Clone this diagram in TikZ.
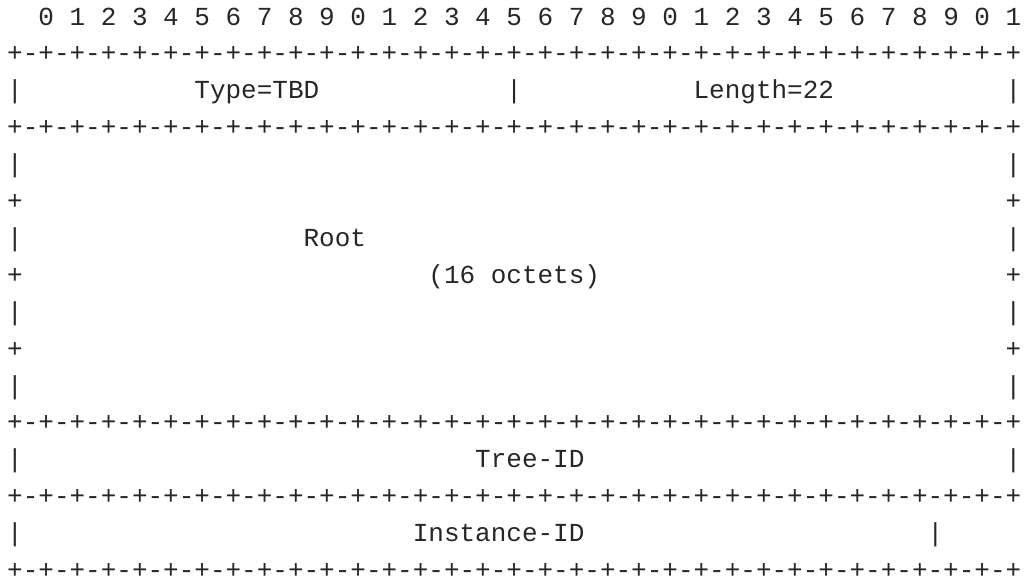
\documentclass[tikz,border=0pt]{standalone}
\usepackage{fontspec}
\setmonofont{Liberation Mono}
\definecolor{ink}{HTML}{262626}
\newcommand\asciiat[4]{\node[asc] (#1) at ({7.2+#2*15.6},{-(25+#3*36.9)}) {#4};}
\newcommand\borderrow{+-+-+-+-+-+-+-+-+-+-+-+-+-+-+-+-+-+-+-+-+-+-+-+-+-+-+-+-+-+-+-+-+}
\begin{document}
\begin{tikzpicture}[x=1pt,y=1pt,
  asc/.style={anchor=base west, inner sep=0pt, outer sep=0pt, text depth=0pt,
    font=\ttfamily\fontsize{26}{26}\selectfont, text=ink}]
\useasboundingbox (0,0) rectangle (1024,-579);
% bit ruler
\asciiat{ruler}{2}{0}{0 1 2 3 4 5 6 7 8 9 0 1 2 3 4 5 6 7 8 9 0 1 2 3 4 5 6 7 8 9 0 1}
% borders
\asciiat{b1}{0}{1}{\borderrow}
\asciiat{b3}{0}{3}{\borderrow}
\asciiat{b11}{0}{11}{\borderrow}
\asciiat{b13}{0}{13}{\borderrow}
\asciiat{b15}{0}{15}{\borderrow}
% row 2
\asciiat{l2}{0}{2}{|}
\asciiat{type}{12}{2}{Type=TBD}
\asciiat{m2}{32}{2}{|}
\asciiat{len}{44}{2}{Length=22}
\asciiat{r2}{64}{2}{|}
% Root block
\asciiat{l4}{0}{4}{|}\asciiat{r4}{64}{4}{|}
\asciiat{l5}{0}{5}{+}\asciiat{r5}{64}{5}{+}
\asciiat{l6}{0}{6}{|}\asciiat{root}{19}{6}{Root}\asciiat{r6}{64}{6}{|}
\asciiat{l7}{0}{7}{+}\asciiat{oct}{27}{7}{(16 octets)}\asciiat{r7}{64}{7}{+}
\asciiat{l8}{0}{8}{|}\asciiat{r8}{64}{8}{|}
\asciiat{l9}{0}{9}{+}\asciiat{r9}{64}{9}{+}
\asciiat{l10}{0}{10}{|}\asciiat{r10}{64}{10}{|}
% Tree-ID
\asciiat{l12}{0}{12}{|}\asciiat{tree}{30}{12}{Tree-ID}\asciiat{r12}{64}{12}{|}
% Instance-ID
\asciiat{l14}{0}{14}{|}\asciiat{inst}{26}{14}{Instance-ID}\asciiat{r14}{59}{14}{|}
\end{tikzpicture}
\end{document}
